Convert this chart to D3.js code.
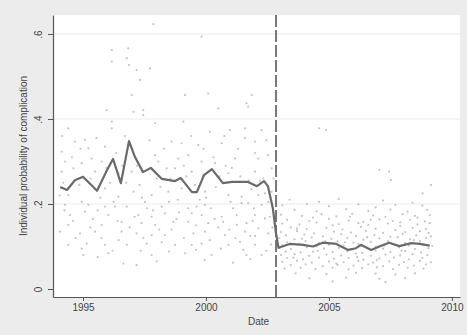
<!DOCTYPE html>
<html>
<head>
<meta charset="utf-8">
<script src="https://cdn.jsdelivr.net/npm/d3@7"></script>
<style>
  body { margin: 0; background: #ececec; }
  text { font-family: "Liberation Sans", Arial, sans-serif; fill: #444; }
</style>
</head>
<body>
<div id="chart"></div>
<script>
// Data
//= ================================
var xTicks = [1995, 2000, 2005, 2010];
var yTicks = [0, 0.2, 0.4, 0.6];
var cutoffDate = 2002.85;

// smoothed mean line
var lineDates = [1994.07, 1994.35, 1994.67, 1995.0, 1995.57, 1995.98, 1996.22, 1996.54, 1996.87, 1997.11,
  1997.44, 1997.76, 1998.21, 1998.74, 1998.98, 1999.43, 1999.63, 1999.92, 2000.24, 2000.69,
  2001.06, 2001.38, 2001.71, 2002.07, 2002.36, 2002.52, 2002.72, 2002.85, 2002.95, 2003.4,
  2003.95, 2004.35, 2004.75, 2005.3, 2005.78, 2006.1, 2006.3, 2006.72, 2007.05, 2007.45,
  2007.86, 2008.35, 2008.69, 2009.1];
var lineValues = [0.240, 0.233, 0.256, 0.264, 0.231, 0.280, 0.306, 0.249, 0.348, 0.311,
  0.275, 0.285, 0.259, 0.254, 0.261, 0.228, 0.228, 0.268, 0.282, 0.249,
  0.252, 0.252, 0.252, 0.242, 0.254, 0.242, 0.190, 0.130, 0.097, 0.106,
  0.104, 0.100, 0.109, 0.106, 0.092, 0.096, 0.104, 0.092, 0.100, 0.109,
  0.101, 0.108, 0.106, 0.102];

// individual points before the cutoff [date, probability]
var pointsBefore = [
  [1997.86, .623], [1999.82, .594], [1996.17, .562], [1996.84, .566], [1996.17, .535], [1996.78, .543],
  [1996.87, .527], [1997.18, .515], [1997.72, .519], [1997.32, .492], [1996.98, .456], [1997.05, .417],
  [1997.45, .421], [1997.45, .409], [1995.96, .421], [1999.15, .456], [2000.09, .460], [2001.86, .456],
  [2001.65, .437], [2000.50, .425], [2001.72, .429], [1996.17, .394], [1996.17, .378], [1997.93, .390],
  [1999.08, .394], [2000.16, .370], [2000.98, .374], [2001.59, .378], [2002.26, .374], [1994.40, .378],
  [1994.67, .347], [1995.08, .351], [1994.13, .323], [1995.22, .331], [1995.89, .335], [1998.60, .347],
  [1999.01, .343], [1999.69, .339], [2000.64, .343], [2001.99, .347], [2001.59, .355], [1995.35, .307],
  [1994.27, .300], [1994.95, .296], [1995.76, .300], [1997.93, .315], [1998.06, .300], [1998.88, .307],
  [1999.28, .315], [1999.82, .300], [2000.37, .296], [2001.18, .307], [2002.13, .307], [2002.53, .315],
  [2002.67, .284], [1994.13, .276], [1994.61, .284], [1995.49, .276], [1996.44, .272], [1996.98, .276],
  [1998.40, .284], [1998.74, .284], [1999.42, .276], [1999.89, .268], [2000.91, .272], [2001.99, .276],
  [2002.33, .260], [1994.40, .221], [1995.89, .237], [1996.44, .217], [1997.05, .229], [1997.79, .221],
  [1998.47, .229], [1999.01, .237], [1999.96, .229], [2000.91, .221], [2001.45, .217], [2002.13, .221],
  [2002.67, .229], [1994.27, .198], [1995.22, .198], [1995.89, .194], [1996.30, .194], [1996.78, .194],
  [1997.52, .205], [1998.20, .194], [1999.28, .190], [1999.62, .194], [1999.96, .198], [2001.45, .202],
  [2001.72, .202], [2002.26, .198], [2002.53, .205], [1994.47, .174], [1995.08, .182], [1996.03, .174],
  [1997.25, .174], [1997.79, .170], [1998.33, .178], [1999.42, .178], [1999.82, .174], [2000.64, .170],
  [2001.25, .174], [2001.99, .174], [2002.40, .166], [1994.40, .151], [1995.76, .151], [1996.57, .158],
  [1997.38, .155], [1997.93, .151], [1998.67, .158], [1999.28, .158], [2000.09, .155], [2000.70, .158],
  [2001.25, .151], [2001.65, .155], [2002.13, .143], [1994.07, .135], [1994.88, .131], [1995.49, .135],
  [1996.57, .135], [1997.18, .131], [1997.79, .127], [1998.33, .127], [1999.49, .131], [1999.96, .135],
  [2000.77, .127], [2001.59, .135], [2002.53, .131], [1994.40, .104], [1995.15, .107], [1995.89, .104],
  [1996.78, .104], [1997.59, .107], [1998.74, .104], [1999.42, .104], [1999.82, .107], [2000.91, .104],
  [2001.38, .111], [2001.99, .104], [1995.01, .080], [1996.03, .084], [1997.79, .080], [1999.15, .084],
  [2000.23, .080], [2001.52, .092], [2001.65, .080], [2002.26, .080], [1996.64, .060], [1997.18, .056],
  [1994.2, .25], [1994.85, .245], [1995.3, .26], [1995.7, .215], [1996.1, .25], [1996.6, .29],
  [1997.3, .245], [1997.6, .19], [1998.0, .26], [1998.5, .205], [1998.9, .18], [1999.2, .265],
  [1999.55, .245], [2000.0, .215], [2000.4, .24], [2000.8, .29], [2001.1, .19], [2001.4, .265],
  [2001.85, .235], [2002.2, .255], [2002.6, .17], [1994.6, .16], [1995.4, .165], [1996.9, .145],
  [1998.1, .14], [1998.8, .165], [2000.5, .145], [2001.8, .125], [2000.3, .31], [1997.0, .33],
  [1994.15, .36], [1994.9, .33], [1995.55, .355], [1996.35, .32], [1996.7, .36], [1997.7, .35],
  [1998.3, .33], [1999.4, .36], [1999.9, .33], [2000.75, .36], [2001.3, .33], [2002.0, .32],
  [2002.45, .35], [1994.55, .31], [1995.95, .285], [1996.75, .25], [1997.2, .29], [1998.55, .26],
  [1999.1, .29], [2000.55, .265], [2001.05, .285], [2001.75, .255], [2002.75, .26], [1994.05, .22],
  [1994.95, .205], [1995.6, .185], [1996.25, .205], [1997.4, .215], [1998.15, .24], [1998.85, .21],
  [1999.75, .21], [2000.2, .19], [2001.0, .205], [2001.95, .19], [2002.4, .225], [1994.25, .185],
  [1995.3, .145], [1996.4, .16], [1997.1, .17], [1997.85, .185], [1998.6, .14], [1999.6, .15],
  [2000.35, .165], [2000.95, .14], [2001.9, .16], [2002.7, .145], [1994.7, .12], [1995.75, .12],
  [1996.45, .115], [1997.45, .12], [1998.2, .11], [1999.1, .12], [2000.15, .115], [2001.2, .12],
  [2002.0, .125], [2002.65, .105], [1994.95, .095], [1996.2, .09], [1997.35, .09], [1998.5, .088],
  [1999.6, .092], [2000.6, .095], [2001.8, .07], [2002.45, .09], [1995.6, .075], [1998.0, .065],
  [1999.95, .068], [2001.1, .062]
];

// individual points after the cutoff [date, probability]
var pointsAfter = [
  [2003.4, .21], [2004.6, .205], [2005.4, .212], [2007.2, .208], [2008.4, .203],
  [2003.1, .197], [2004.1, .2], [2005.0, .195], [2006.2, .199], [2006.9, .192], [2007.7, .198], [2008.8, .196],
  [2003.6, .186], [2004.5, .183], [2005.7, .188], [2006.6, .184], [2007.5, .187], [2008.2, .182], [2009.0, .186],
  [2003.05, .175], [2003.9, .172], [2004.7, .176], [2005.3, .171], [2005.95, .177], [2006.8, .173], [2007.3, .17],
  [2008.0, .176], [2008.5, .172], [2009.1, .174],
  [2003.3, .163], [2004.2, .16], [2005.0, .165], [2005.8, .161], [2006.4, .158], [2007.05, .164], [2007.6, .16],
  [2008.3, .163], [2008.9, .159],
  [2003.1, .154], [2003.8, .152], [2004.5, .156], [2005.4, .153], [2006.2, .155], [2006.6, .151], [2007.4, .154],
  [2007.9, .157], [2008.6, .152], [2009.1, .155],
  [2003.45, .145], [2004.1, .141], [2004.9, .144], [2005.55, .14], [2006.3, .146], [2006.9, .142], [2007.7, .139],
  [2008.4, .144], [2008.95, .141],
  [2003.05, .134], [2003.7, .136], [2004.4, .131], [2005.2, .135], [2005.9, .133], [2006.5, .137], [2007.2, .132],
  [2008.1, .134], [2008.7, .136],
  [2003.25, .126], [2004.0, .128], [2004.75, .124], [2005.5, .129], [2006.1, .125], [2006.85, .127], [2007.5, .123],
  [2008.0, .129], [2008.55, .126], [2009.15, .124],
  [2002.98, .12], [2003.6, .117], [2004.3, .121], [2005.1, .118], [2005.75, .12], [2006.4, .116], [2007.05, .119],
  [2007.8, .122], [2008.3, .117], [2008.95, .12],
  [2003.3, .11], [2004.05, .113], [2004.6, .108], [2005.35, .112], [2006.0, .109], [2006.7, .111], [2007.4, .113],
  [2008.1, .108], [2008.7, .112],
  [2003.1, .103], [2003.8, .106], [2004.5, .101], [2005.0, .104], [2005.6, .102], [2006.2, .106], [2006.9, .1],
  [2007.65, .105], [2008.25, .102], [2008.85, .104], [2009.2, .101],
  [2002.98, .096], [2003.45, .094], [2004.1, .098], [2004.8, .095], [2005.4, .097], [2005.95, .093], [2006.55, .097],
  [2007.2, .095], [2007.85, .098], [2008.5, .094], [2009.05, .096],
  [2003.25, .088], [2003.85, .086], [2004.55, .09], [2005.15, .087], [2005.75, .089], [2006.35, .085], [2006.9, .09],
  [2007.5, .087], [2008.1, .089], [2008.75, .086],
  [2003.05, .08], [2003.6, .082], [2004.2, .078], [2004.9, .081], [2005.5, .079], [2006.1, .083], [2006.7, .078],
  [2007.3, .081], [2007.9, .079], [2008.4, .082], [2009.0, .08],
  [2003.3, .073], [2003.95, .07], [2004.6, .074], [2005.2, .071], [2005.8, .073], [2006.4, .069], [2007.05, .072],
  [2007.65, .074], [2008.25, .07], [2008.8, .073],
  [2003.1, .064], [2003.7, .066], [2004.3, .062], [2005.0, .065], [2005.6, .063], [2006.2, .066], [2006.8, .062],
  [2007.45, .065], [2008.05, .063], [2008.7, .066], [2009.15, .063],
  [2003.45, .056], [2004.05, .058], [2004.75, .054], [2005.35, .057], [2006.0, .055], [2006.6, .058], [2007.2, .054],
  [2007.85, .057], [2008.45, .055],
  [2003.2, .048], [2003.85, .05], [2004.45, .047], [2005.15, .05], [2005.8, .046], [2006.35, .049], [2006.95, .051],
  [2007.6, .047], [2008.2, .05], [2008.85, .048],
  [2003.65, .037], [2004.9, .035], [2006.1, .038], [2006.9, .036], [2007.7, .034], [2008.5, .037],
  [2004.2, .025], [2005.7, .027], [2007.05, .024], [2008.1, .026], [2005.15, .018], [2007.3, .016],
  [2004.6, .378], [2004.88, .374], [2007.05, .28], [2007.45, .276], [2007.52, .256], [2008.81, .225], [2009.15, .245],
  [2003.7, .142], [2004.35, .168], [2005.15, .15], [2005.85, .17], [2006.7, .163], [2007.9, .148], [2008.6, .168],
  [2003.55, .074], [2004.35, .088], [2005.3, .06], [2006.15, .075], [2006.95, .068], [2007.95, .09], [2008.95, .058],
  [2003.9, .118], [2004.85, .112], [2005.65, .11], [2006.55, .122], [2007.25, .102], [2008.45, .115], [2009.05, .132]
];

// Step 1: Set up the chart
//= ================================
var svgWidth = 467;
var svgHeight = 335;

var plot = { left: 53, right: 460, top: 15, bottom: 297 };

var svg = d3.select("#chart")
  .append("svg")
  .attr("width", svgWidth)
  .attr("height", svgHeight);

svg.append("rect")
  .attr("width", svgWidth)
  .attr("height", svgHeight)
  .attr("fill", "#ececec");

svg.append("rect")
  .attr("x", plot.left)
  .attr("y", plot.top)
  .attr("width", plot.right - plot.left)
  .attr("height", plot.bottom - plot.top)
  .attr("fill", "#ffffff");

// Step 2: Scales
//= ================================
var xScale = d3.scaleLinear()
  .domain([1993.78, 2010.33])
  .range([plot.left, plot.right]);

var yScale = d3.scaleLinear()
  .domain([-0.0188, 0.6447])
  .range([plot.bottom, plot.top]);

// gridlines
svg.append("g")
  .selectAll("line")
  .data(yTicks.filter(d => d > 0))
  .enter()
  .append("line")
  .attr("x1", plot.left)
  .attr("x2", plot.right)
  .attr("y1", d => yScale(d))
  .attr("y2", d => yScale(d))
  .attr("stroke", "#ebebeb")
  .attr("stroke-width", 1);

// Step 3: Scatter points
//= ================================
svg.append("g")
  .selectAll("circle")
  .data(pointsBefore.concat(pointsAfter))
  .enter()
  .append("circle")
  .attr("cx", d => xScale(d[0]))
  .attr("cy", d => yScale(d[1]))
  .attr("r", 1.1)
  .attr("fill", "#b0b0b0")
  .attr("opacity", 0.75);

// Step 4: Cutoff line and mean line
//= ================================
svg.append("line")
  .attr("x1", xScale(cutoffDate))
  .attr("x2", xScale(cutoffDate))
  .attr("y1", plot.top)
  .attr("y2", plot.bottom)
  .attr("stroke", "#777")
  .attr("stroke-width", 2)
  .attr("stroke-dasharray", "12,3");

var line = d3.line()
  .x((d, i) => xScale(d))
  .y((d, i) => yScale(lineValues[i]));

svg.append("path")
  .attr("d", line(lineDates))
  .attr("fill", "none")
  .attr("stroke", "#6a6a6a")
  .attr("stroke-width", 2.2)
  .attr("stroke-linejoin", "round");

// Step 5: Axes
//= ================================
var leftAxis = d3.axisLeft(yScale)
  .tickValues(yTicks)
  .tickSize(5)
  .tickSizeOuter(0)
  .tickFormat(d => d === 0 ? "0" : d3.format(".1f")(d).replace("0.", "."));

var bottomAxis = d3.axisBottom(xScale)
  .tickValues(xTicks)
  .tickSize(4)
  .tickSizeOuter(0)
  .tickFormat(d3.format("d"));

var yAxisG = svg.append("g")
  .attr("transform", `translate(${plot.left}, 0)`)
  .call(leftAxis);

// labels sit rotated, reading upward, as in the original
yAxisG.selectAll(".tick text")
  .attr("x", 0)
  .attr("y", 0)
  .attr("dy", "0")
  .attr("transform", "translate(-11, 0) rotate(-90)")
  .attr("text-anchor", "middle");

var xAxisG = svg.append("g")
  .attr("transform", `translate(0, ${plot.bottom})`)
  .call(bottomAxis);

[yAxisG, xAxisG].forEach(function(g) {
  g.select(".domain").attr("stroke", "#555").attr("stroke-width", 1.2);
  g.selectAll(".tick line").attr("stroke", "#555");
  g.selectAll("text")
    .attr("font-size", "10px")
    .attr("fill", "#444")
    .style("font-family", "'Liberation Sans', Arial, sans-serif");
});

xAxisG.selectAll("text").attr("y", 7);

// Step 6: Axis labels
//= ================================
svg.append("text")
  .attr("transform", `translate(27, ${(plot.top + plot.bottom) / 2}) rotate(-90)`)
  .attr("text-anchor", "middle")
  .attr("font-size", "10px")
  .text("Individual probability of complication");

svg.append("text")
  .attr("x", (plot.left + plot.right) / 2 + 2)
  .attr("y", 325)
  .attr("text-anchor", "middle")
  .attr("font-size", "10px")
  .text("Date");
</script>
</body>
</html>
